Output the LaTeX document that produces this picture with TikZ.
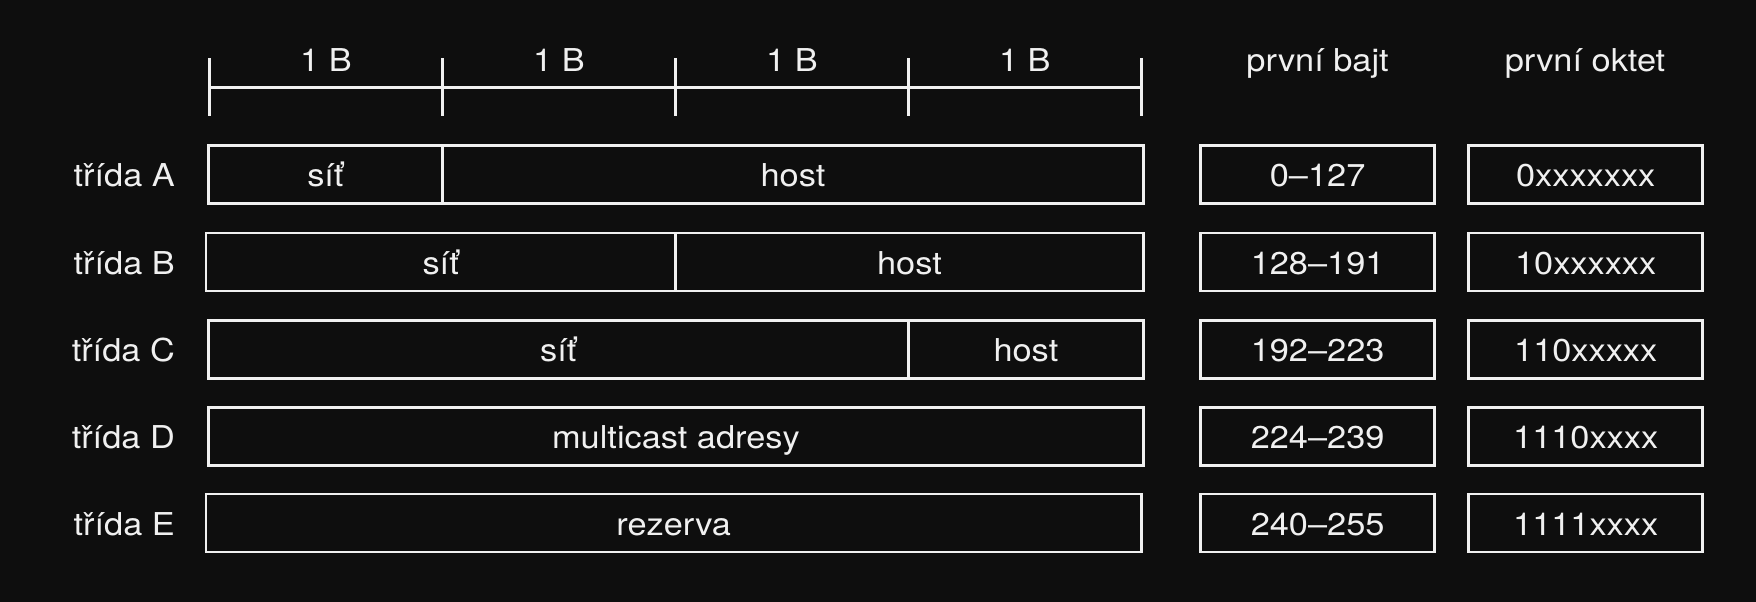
\documentclass[tikz,border=0pt]{standalone}
\usepackage{fontspec}
\setmainfont{TeX Gyre Heros}[FakeStretch=1.09]
\usepackage{tikz}

\definecolor{bgdark}{HTML}{0E0E0E}
\definecolor{ink}{HTML}{F0F0F0}

\begin{document}
\begin{tikzpicture}[x=1pt,y=-1pt,
        txt/.style={text=ink,font=\fontsize{31.5}{38}\selectfont,inner sep=0pt,text height=30pt,text depth=5pt},
        field/.style={txt,shape=rectangle,draw=ink,line width=2.6pt,minimum height=58pt},
        rule/.style={draw=ink,line width=2.4pt}]
        \useasboundingbox (0,0) rectangle (1756,602);
        \fill[bgdark] (0,0) rectangle (1756,602);

        % ruler of bytes
        \coordinate (r0) at (209.5,87.3);
        \coordinate (r1) at (442.4,87.3);
        \coordinate (r2) at (675.4,87.3);
        \coordinate (r3) at (908.3,87.3);
        \coordinate (r4) at (1141.3,87.3);
        \path[rule] (r0) -- (r4);
        \path[rule] ([yshift=29pt]r0) -- ([yshift=-29pt]r0);
        \path[rule] ([yshift=29pt]r1) -- ([yshift=-29pt]r1);
        \path[rule] ([yshift=29pt]r2) -- ([yshift=-29pt]r2);
        \path[rule] ([yshift=29pt]r3) -- ([yshift=-29pt]r3);
        \path[rule] ([yshift=29pt]r4) -- ([yshift=-29pt]r4);
        \node[txt] (b1) at (326,59.3) {1 B};
        \node[txt] (b2) at (558.9,59.3) {1 B};
        \node[txt] (b3) at (791.9,59.3) {1 B};
        \node[txt] (b4) at (1024.8,59.3) {1 B};
        \node[txt] (hbajt) at (1317.6,59.3) {první bajt};
        \node[txt] (hoktet) at (1585,59.3) {první oktet};

        % class A
        \node[txt,anchor=east] (la) at (175,174.2) {třída A};
        \node[field,minimum width=234.1pt] (anet) at (325.4,174.2) {síť};
        \node[field,minimum width=701.1pt] (ahost) at (793,174.2) {host};
        \node[field,minimum width=234pt] (abajt) at (1317.6,174.2) {0–127};
        \node[field,minimum width=234pt] (aoktet) at (1585.7,174.2) {0xxxxxxx};

        % class B
        \node[txt,anchor=east] (lb) at (175,262) {třída B};
        \node[field,minimum width=469.4pt] (bnet) at (440.7,262) {síť};
        \node[field,minimum width=468.1pt] (bhost) at (909.5,262) {host};
        \node[field,minimum width=234pt] (bbajt) at (1317.6,262) {128–191};
        \node[field,minimum width=234pt] (boktet) at (1585.7,262) {10xxxxxx};

        % class C
        \node[txt,anchor=east] (lc) at (175,349.3) {třída C};
        \node[field,minimum width=700pt] (cnet) at (558.3,349.3) {síť};
        \node[field,minimum width=235.2pt] (chost) at (1025.9,349.3) {host};
        \node[field,minimum width=234pt] (cbajt) at (1317.6,349.3) {192–223};
        \node[field,minimum width=234pt] (coktet) at (1585.7,349.3) {110xxxxx};

        % class D
        \node[txt,anchor=east] (ld) at (175,436.3) {třída D};
        \node[field,minimum width=935.2pt] (dmulti) at (675.9,436.3) {multicast adresy};
        \node[field,minimum width=234pt] (dbajt) at (1317.6,436.3) {224–239};
        \node[field,minimum width=234pt] (doktet) at (1585.7,436.3) {1110xxxx};

        % class E
        \node[txt,anchor=east] (le) at (175,523) {třída E};
        \node[field,minimum width=935.3pt] (ereserve) at (673.7,523) {rezerva};
        \node[field,minimum width=234pt] (ebajt) at (1317.6,523) {240–255};
        \node[field,minimum width=234pt] (eoktet) at (1585.7,523) {1111xxxx};
\end{tikzpicture}
\end{document}
